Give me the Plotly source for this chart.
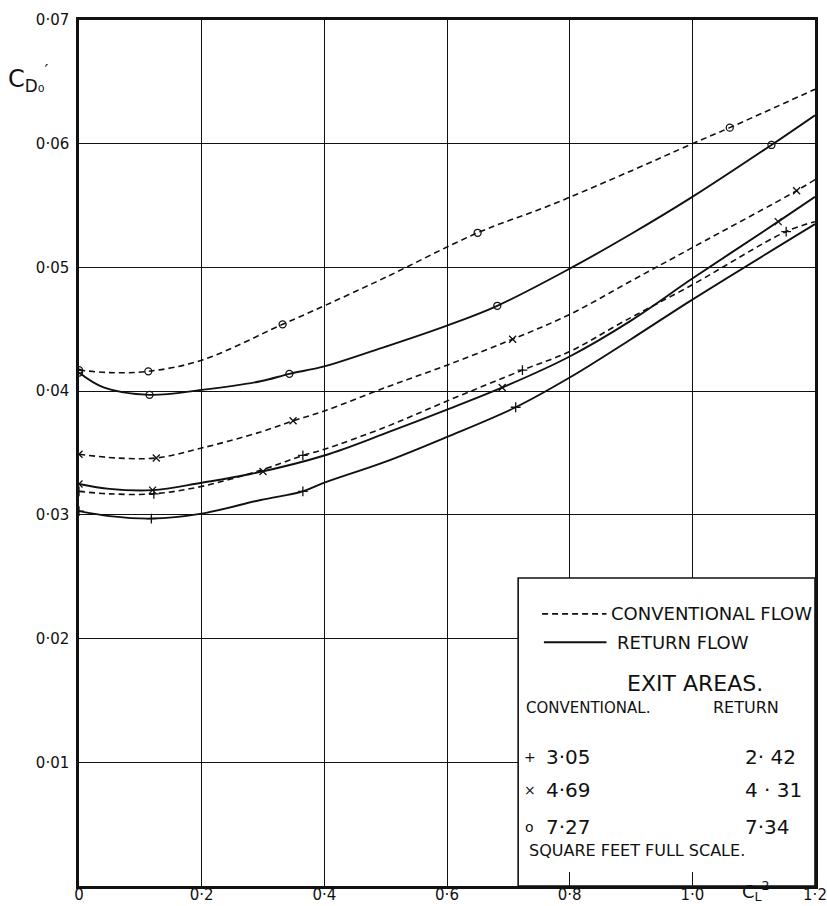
import plotly.graph_objects as go

# ---------------- axis ticks ----------------
x_ticks = [0, 0.2, 0.4, 0.6, 0.8, 1.0, 1.2]
x_tick_labels = ["0", "0·2", "0·4", "0·6", "0·8", "1·0", "1·2"]
y_ticks = [0.01, 0.02, 0.03, 0.04, 0.05, 0.06, 0.07]
y_tick_labels = ["0·01", "0·02", "0·03", "0·04", "0·05", "0·06", "0·07"]

# ---------------- conventional flow (dashed) ----------------
conv_o_x = [0, 0.05, 0.113, 0.2, 0.332, 0.4, 0.5, 0.65, 0.767, 0.9, 1.0, 1.061, 1.2]
conv_o_y = [0.0417, 0.0415, 0.0416, 0.0425, 0.0454, 0.0469, 0.0492, 0.0528, 0.0550, 0.0578, 0.0600, 0.0613, 0.0644]
conv_o_mx = [0, 0.113, 0.332, 0.65, 1.061]
conv_o_my = [0.0417, 0.0416, 0.0454, 0.0528, 0.0613]

conv_x_x = [0, 0.06, 0.126, 0.2, 0.296, 0.349, 0.4, 0.5, 0.6, 0.707, 0.8, 0.9, 1.0, 1.17, 1.2]
conv_x_y = [0.0349, 0.0346, 0.0346, 0.0354, 0.0367, 0.0376, 0.0384, 0.0403, 0.0421, 0.0442, 0.0462, 0.0489, 0.0516, 0.0562, 0.0571]
conv_x_mx = [0, 0.126, 0.349, 0.707, 1.17]
conv_x_my = [0.0349, 0.0346, 0.0376, 0.0442, 0.0562]

conv_p_x = [0, 0.05, 0.122, 0.2, 0.296, 0.365, 0.4, 0.5, 0.6, 0.723, 0.8, 0.887, 1.0, 1.153, 1.2]
conv_p_y = [0.0319, 0.0317, 0.0317, 0.0323, 0.0336, 0.0348, 0.0353, 0.0371, 0.0392, 0.0417, 0.0432, 0.0456, 0.0486, 0.0529, 0.0537]
conv_p_mx = [0, 0.122, 0.365, 0.723, 1.153]
conv_p_my = [0.0319, 0.0317, 0.0348, 0.0417, 0.0529]

# ---------------- return flow (solid) ----------------
ret_o_x = [0, 0.04, 0.115, 0.2, 0.296, 0.343, 0.4, 0.5, 0.6, 0.682, 0.8, 0.9, 1.0, 1.129, 1.2]
ret_o_y = [0.0415, 0.0403, 0.0397, 0.0401, 0.0408, 0.0414, 0.0420, 0.0436, 0.0453, 0.0469, 0.0499, 0.0527, 0.0557, 0.0599, 0.0623]
ret_o_mx = [0, 0.115, 0.343, 0.682, 1.129]
ret_o_my = [0.0415, 0.0397, 0.0414, 0.0469, 0.0599]

ret_x_x = [0, 0.05, 0.12, 0.2, 0.28, 0.4, 0.5, 0.6, 0.7, 0.8, 0.9, 1.0, 1.14, 1.2]
ret_x_y = [0.0325, 0.0321, 0.0320, 0.0326, 0.0333, 0.0348, 0.0366, 0.0385, 0.0405, 0.0428, 0.0457, 0.0491, 0.0537, 0.0557]
ret_x_mx = [0, 0.12, 0.30, 0.69, 1.14]
ret_x_my = [0.0325, 0.0320, 0.0335, 0.0403, 0.0537]

ret_p_x = [0, 0.05, 0.118, 0.2, 0.296, 0.365, 0.4, 0.5, 0.6, 0.712, 0.8, 0.9, 1.0, 1.2]
ret_p_y = [0.0303, 0.0299, 0.0297, 0.0301, 0.0312, 0.0319, 0.0326, 0.0343, 0.0363, 0.0387, 0.0411, 0.0442, 0.0474, 0.0535]
ret_p_mx = [0, 0.118, 0.365, 0.712]
ret_p_my = [0.0303, 0.0297, 0.0319, 0.0387]

# ---------------- legend content ----------------
area_symbols = ["+", "×", "o"]
conv_areas = ["3·05", "4·69", "7·27"]
return_areas = ["2· 42", "4 · 31", "7·34"]
area_rows_y = [0.0104, 0.0078, 0.0048]

INK = "#111111"
FONT = "DejaVu Sans"

fig = go.Figure()

series = [
    (conv_o_x, conv_o_y, conv_o_mx, conv_o_my, "circle-open", "dash"),
    (conv_x_x, conv_x_y, conv_x_mx, conv_x_my, "x-thin-open", "dash"),
    (conv_p_x, conv_p_y, conv_p_mx, conv_p_my, "cross-thin-open", "dash"),
    (ret_o_x, ret_o_y, ret_o_mx, ret_o_my, "circle-open", "solid"),
    (ret_x_x, ret_x_y, ret_x_mx, ret_x_my, "x-thin-open", "solid"),
    (ret_p_x, ret_p_y, ret_p_mx, ret_p_my, "cross-thin-open", "solid"),
]

for cx, cy, mx, my, sym, style in series:
    fig.add_trace(go.Scatter(
        x=cx, y=cy, mode="lines",
        line=dict(color=INK, width=1.6 if style == "dash" else 1.9,
                  dash="6px,4px" if style == "dash" else "solid",
                  shape="spline", smoothing=1.0),
        showlegend=False, hoverinfo="skip"))
    fig.add_trace(go.Scatter(
        x=mx, y=my, mode="markers",
        marker=dict(symbol=sym, size=7, color=INK, line=dict(color=INK, width=1.3)),
        showlegend=False, hoverinfo="skip"))

# legend box (white, covers the grid)
fig.add_shape(type="rect", xref="x", yref="y", x0=0.716, x1=1.2, y0=0, y1=0.0249,
              fillcolor="white", line=dict(color=INK, width=1.6), layer="between")
# line samples
fig.add_shape(type="line", xref="x", yref="y", x0=0.755, x1=0.860, y0=0.0220, y1=0.0220,
              line=dict(color=INK, width=1.6, dash="6px,4px"))
fig.add_shape(type="line", xref="x", yref="y", x0=0.758, x1=0.860, y0=0.0197, y1=0.0197,
              line=dict(color=INK, width=1.9))

def txt(x, y, s, size, anchor="left"):
    fig.add_annotation(x=x, y=y, xref="x", yref="y", text=s, showarrow=False,
                       xanchor=anchor, yanchor="middle",
                       font=dict(family=FONT, size=size, color=INK))

txt(0.864, 0.0220, "CONVENTIONAL FLOW", 18)
txt(0.874, 0.0197, "RETURN FLOW", 18)
txt(1.005, 0.0164, "EXIT AREAS.", 22, "center")
txt(0.726, 0.0144, "CONVENTIONAL.", 15)
txt(1.030, 0.0144, "RETURN", 16)
for sym, ca, ra, ry in zip(area_symbols, conv_areas, return_areas, area_rows_y):
    txt(0.735, ry, sym, 14, "center")
    txt(0.758, ry, ca, 20)
    txt(1.083, ry, ra, 20)
txt(0.730, 0.0029, "SQUARE FEET FULL SCALE.", 16)

# axis titles
fig.add_annotation(x=28, y=78, xref="paper", yref="paper",
                   text="C<sub>D₀</sub><sup>′</sup>", showarrow=False,
                   xanchor="center", yanchor="middle",
                   font=dict(family=FONT, size=24, color=INK))
fig.add_annotation(x=1.103, y=-0.006, xref="x", yref="paper",
                   text="C<sub>L</sub><sup>2</sup>", showarrow=False,
                   xanchor="center", yanchor="middle",
                   font=dict(family=FONT, size=18, color=INK))

fig.update_layout(
    width=827, height=906,
    margin=dict(l=79, r=12, t=20, b=20, autoexpand=False),
    paper_bgcolor="white", plot_bgcolor="white",
    showlegend=False,
    font=dict(family=FONT, color=INK),
)
# convert the y-title position from pixels to paper units
fig.layout.annotations[-2].x = (28 - 79) / (827 - 79 - 12)
fig.layout.annotations[-2].y = (906 - 20 - 78) / (906 - 20 - 20)

fig.update_xaxes(
    range=[0, 1.2], tickvals=x_ticks, ticktext=x_tick_labels,
    showgrid=True, gridcolor=INK, gridwidth=1.3,
    showline=True, linecolor=INK, linewidth=2.5, mirror=True,
    ticks="inside", ticklen=14, tickcolor=INK, tickwidth=1.3,
    tickfont=dict(family=FONT, size=15, color=INK),
    ticklabelstandoff=-7,
    zeroline=False, automargin=False,
)
fig.update_yaxes(
    range=[0, 0.07], tickvals=y_ticks, ticktext=y_tick_labels,
    showgrid=True, gridcolor=INK, gridwidth=1.3,
    showline=True, linecolor=INK, linewidth=2.5, mirror=True,
    ticks="", ticklabelstandoff=4,
    tickfont=dict(family=FONT, size=15, color=INK),
    zeroline=False, automargin=False,
)

fig.write_html("out.html")
